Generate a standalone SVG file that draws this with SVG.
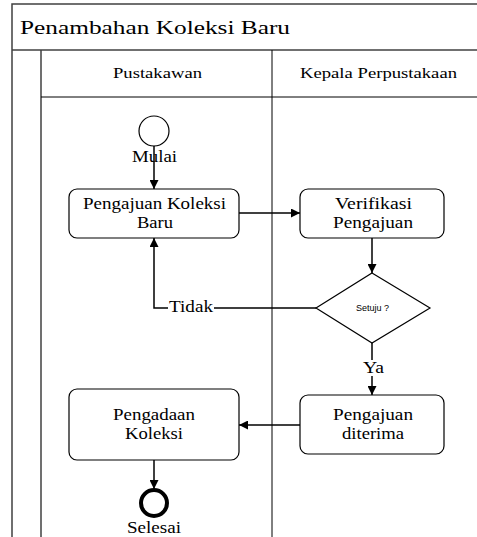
<svg xmlns="http://www.w3.org/2000/svg" width="477" height="537" viewBox="0 0 477 537">
<defs>
<marker id="ah" viewBox="0 0 10 10" refX="10" refY="5" markerWidth="9" markerHeight="9" markerUnits="userSpaceOnUse" orient="auto">
<path d="M0,0 L10,5 L0,10 Z" fill="#000"/>
</marker>
</defs>
<style>
.frame{fill:none;stroke:#404040;stroke-width:1.5}
.div{fill:none;stroke:#000;stroke-width:1}
.box{fill:#fff;stroke:#000;stroke-width:1.2}
.t{font-family:"Liberation Serif","Times New Roman",serif;fill:#000;text-anchor:middle}
.c{fill:none;stroke:#000;stroke-width:1.5}
</style>
<rect width="477" height="537" fill="#fff"/>
<g id="pool">
<path class="frame" d="M477,4 H12 V537"/>
<path class="frame" d="M12,50 H477"/>
<path class="frame" d="M41,50 V537"/>
<path class="div" d="M41,97 H477"/>
<path class="div" d="M272,50 V537"/>
<text class="t" x="155" y="34" font-size="19" textLength="270" lengthAdjust="spacingAndGlyphs">Penambahan Koleksi Baru</text>
<text class="t" x="157.5" y="78" font-size="15" textLength="89" lengthAdjust="spacingAndGlyphs">Pustakawan</text>
<text class="t" x="378.5" y="78" font-size="15" textLength="157" lengthAdjust="spacingAndGlyphs">Kepala Perpustakaan</text>
</g>
<g id="connectors">
<path class="c" d="M154,145 V189" marker-end="url(#ah)"/>
<path class="c" d="M239,213 H300" marker-end="url(#ah)"/>
<path class="c" d="M372,238 V273" marker-end="url(#ah)"/>
<path class="c" d="M316,308 H154 V238" marker-end="url(#ah)"/>
<path class="c" d="M372,343 V395" marker-end="url(#ah)"/>
<path class="c" d="M300,425 H239" marker-end="url(#ah)"/>
<path class="c" d="M154,460 V489" marker-end="url(#ah)"/>
</g>
<g id="start">
<circle cx="154" cy="131" r="15" fill="#fff" stroke="#000" stroke-width="1.2"/>
<text class="t" x="154.5" y="162" font-size="16" textLength="45" lengthAdjust="spacingAndGlyphs">Mulai</text>
</g>
<g id="pengajuan-koleksi">
<rect class="box" x="69" y="189" width="170" height="49" rx="8"/>
<text class="t" x="154.5" y="209" font-size="16" textLength="143" lengthAdjust="spacingAndGlyphs">Pengajuan Koleksi</text>
<text class="t" x="155" y="228" font-size="16" textLength="36" lengthAdjust="spacingAndGlyphs">Baru</text>
</g>
<g id="verifikasi">
<rect class="box" x="300" y="189" width="144" height="49" rx="8"/>
<text class="t" x="373.5" y="209" font-size="16" textLength="77" lengthAdjust="spacingAndGlyphs">Verifikasi</text>
<text class="t" x="373" y="228" font-size="16" textLength="80" lengthAdjust="spacingAndGlyphs">Pengajuan</text>
</g>
<g id="setuju">
<path d="M372,273 L430,308 L372,343 L316,308 Z" fill="#fff" stroke="#000" stroke-width="1.2"/>
<text x="372.5" y="311" font-family="'Liberation Sans',Arial,sans-serif" font-size="9" text-anchor="middle">Setuju ?</text>
</g>
<g id="tidak-label">
<rect x="168" y="300" width="46" height="15" fill="#fff"/>
<text class="t" x="191" y="312" font-size="16" textLength="44" lengthAdjust="spacingAndGlyphs">Tidak</text>
</g>
<g id="ya-label">
<rect x="362" y="360" width="22" height="16" fill="#fff"/>
<text class="t" x="373.5" y="373" font-size="16" textLength="21" lengthAdjust="spacingAndGlyphs">Ya</text>
</g>
<g id="diterima">
<rect class="box" x="300" y="395" width="144" height="59" rx="8"/>
<text class="t" x="373" y="420" font-size="16" textLength="80" lengthAdjust="spacingAndGlyphs">Pengajuan</text>
<text class="t" x="373" y="439" font-size="16" textLength="62" lengthAdjust="spacingAndGlyphs">diterima</text>
</g>
<g id="pengadaan">
<rect class="box" x="69" y="389" width="170" height="71" rx="8"/>
<text class="t" x="154" y="420" font-size="16" textLength="82" lengthAdjust="spacingAndGlyphs">Pengadaan</text>
<text class="t" x="154" y="439" font-size="16" textLength="58" lengthAdjust="spacingAndGlyphs">Koleksi</text>
</g>
<g id="selesai">
<circle cx="154" cy="503" r="13" fill="#fff" stroke="#000" stroke-width="4"/>
<text class="t" x="154" y="533" font-size="16" textLength="54" lengthAdjust="spacingAndGlyphs">Selesai</text>
</g>
</svg>
